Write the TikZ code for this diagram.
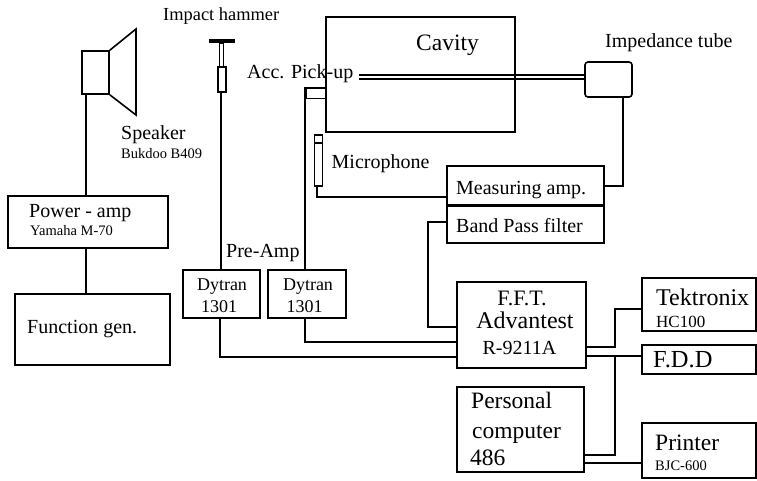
\documentclass[tikz,border=0pt]{standalone}
\usepackage{fontspec}
\setmainfont{Liberation Serif}
\usetikzlibrary{positioning}
\tikzset{
	unit/.style={draw, line width=1.6pt, minimum width=#1, inner sep=0pt},
	wire/.style={line width=1.4pt},
	tag/.style={inner sep=0pt, anchor=base west, font=\fontsize{#1}{#1}\selectfont},
	mid/.style={inner sep=0pt, anchor=base, font=\fontsize{#1}{#1}\selectfont}
}

\begin{document}
\begin{tikzpicture}[x=1pt, y=-1pt]
	\useasboundingbox (0, 0) rectangle (757, 480);
	% speaker
	\node[unit=27pt, minimum height=43pt] (speakerbox) at (95.5, 72.5) {};
	\draw[line width=1.6pt] (speakerbox.north east) -- (136, 29) -- (136, 115) -- (speakerbox.south east);
	\node[tag=20] (speakerlabel) at (121, 139) {Speaker};
	\node[tag=14.5] (speakertype) at (121, 158) {Bukdoo B409};
	% amplifier and generator
	\node[unit=160pt, minimum height=52pt] (poweramp) at (88, 222) {};
	\node[tag=20] (powerlabel) at (29, 217) {Power - amp};
	\node[tag=14.5] (powertype) at (30, 235) {Yamaha M-70};
	\node[unit=155pt, minimum height=71pt] (funcgen) at (92.5, 329.5) {};
	\node[tag=20] (funclabel) at (27, 333) {Function gen.};
	% hammer
	\node[tag=18.4] (hammerlabel) at (163, 20) {Impact hammer};
	\draw[line width=3.5pt] (209, 41) -- (235, 41);
	\node[unit=4pt, minimum height=24pt] (hammerstem) at (221.5, 55) {};
	\node[unit=8pt, minimum height=25pt] (hammergrip) at (222, 79.5) {};
	% cavity and tube
	\node[unit=189pt, minimum height=115pt] (cavity) at (420.5, 74.5) {};
	\node[tag=23.5] (cavitylabel) at (416, 50) {Cavity};
	\node[unit=47pt, minimum height=35pt, rounded corners=3pt] (tube) at (608.5, 79.5) {};
	\node[tag=20] (tubelabel) at (605, 47) {Impedance tube};
	\coordinate (rodtop) at (359, 75);
	\coordinate (rodbot) at (359, 79);
	\draw[wire] (rodtop) -- (tube.west |- rodtop);
	\draw[wire] (rodbot) -- (tube.west |- rodbot);
	\node[tag=20] (picklabel) at (247, 78) {Acc. Pick-up};
	\node[unit=20pt, minimum height=11pt] (pickup) at (316, 93) {};
	% microphone
	\node[unit=8pt, minimum height=51pt] (mic) at (318.5, 160.5) {};
	\draw[line width=1.6pt] (mic.north west |- 0, 143) -- (mic.north east |- 0, 143);
	\node[tag=20] (miclabel) at (331.5, 168) {Microphone};
	% signal chain
	\node[unit=157pt, minimum height=39pt] (measamp) at (525.5, 185.5) {};
	\node[tag=20] (measlabel) at (456, 194) {Measuring amp.};
	\node[unit=157pt, minimum height=37pt] (bandpass) at (525.5, 224.5) {};
	\node[tag=20] (bandlabel) at (456, 232) {Band Pass filter};
	\node[unit=77pt, minimum height=48pt] (dytranone) at (221.5, 294) {};
	\node[mid=18] (dytranonea) at (222, 290) {Dytran};
	\node[mid=18] (dytranoneb) at (219, 312) {1301};
	\node[unit=78pt, minimum height=48pt] (dytrantwo) at (307, 294) {};
	\node[mid=18] (dytrantwoa) at (308, 290) {Dytran};
	\node[mid=18] (dytrantwob) at (304.5, 312) {1301};
	\node[tag=20] (prelabel) at (226, 257) {Pre-Amp};
	\node[unit=129pt, minimum height=86pt] (fft) at (521.5, 325) {};
	\node[mid=22] (fftlabel) at (522, 305) {F.F.T.};
	\node[mid=24] (fftname) at (525, 328) {Advantest};
	\node[mid=20] (ffttype) at (519.5, 354) {R-9211A};
	\node[unit=127pt, minimum height=85pt] (pc) at (520.5, 429.5) {};
	\node[tag=23.5] (pcone) at (471, 408) {Personal};
	\node[tag=23.5] (pctwo) at (472, 438) {computer};
	\node[tag=23.5] (pcthree) at (470, 465) {486};
	\node[unit=114pt, minimum height=53pt] (tek) at (699, 304.5) {};
	\node[tag=24] (teklabel) at (656, 305) {Tektronix};
	\node[tag=17] (tektype) at (656, 327) {HC100};
	\node[unit=114pt, minimum height=29pt] (fdd) at (699, 359.5) {};
	\node[tag=24.5] (fddlabel) at (653, 367) {F.D.D};
	\node[unit=114pt, minimum height=55pt] (printer) at (699, 450.5) {};
	\node[tag=23.5] (printlabel) at (655, 450) {Printer};
	\node[tag=14.5] (printtype) at (655, 470) {BJC-600};
	% connections
	\draw[wire] (speakerbox.south -| 86, 0) -- (poweramp.north -| 86, 0);
	\draw[wire] (poweramp.south -| 86, 0) -- (funcgen.north -| 86, 0);
	\draw[wire] (hammergrip.south -| 221, 0) -- (dytranone.north -| 221, 0);
	\draw[wire] (dytrantwo.north -| 305, 0) -- (305, 88) -- (pickup.north east |- 0, 88);
	\draw[wire] (mic.south -| 317, 0) |- (measamp.west |- 0, 197);
	\draw[wire] (tube.south -| 623, 0) -- (623, 186) -- (measamp.east |- 0, 186);
	\draw[wire] (bandpass.west |- 0, 222) -- (428, 222) |- (fft.west |- 0, 327);
	\draw[wire] (dytrantwo.south -| 305, 0) |- (fft.west |- 0, 342);
	\draw[wire] (dytranone.south -| 220, 0) |- (fft.west |- 0, 357);
	\draw[wire] (fft.east |- 0, 347) -- (615, 347) |- (tek.west |- 0, 309);
	\draw[wire] (fft.east |- 0, 356) -- (fdd.west |- 0, 356);
	\draw[wire] (615, 356) |- (pc.east |- 0, 455);
	\draw[wire] (pc.east |- 0, 463) -- (printer.west |- 0, 463);
\end{tikzpicture}
\end{document}
